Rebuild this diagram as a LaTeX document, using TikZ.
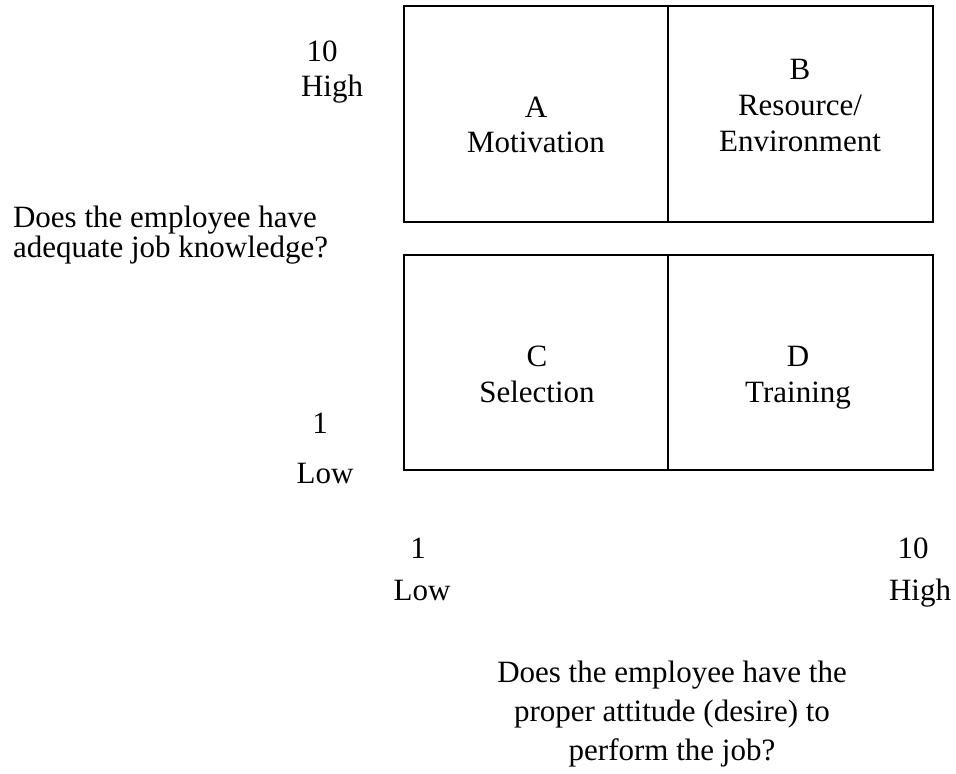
\documentclass[tikz,border=0pt]{standalone}
\usepackage{fontspec}
\setmainfont{Liberation Serif}
\begin{document}
\begin{tikzpicture}[x=0.5pt, y=-0.5pt, line width=1.1pt,
		lbl/.style={anchor=base, inner sep=0pt, align=center, font=\fontsize{15.5}{17.5}\selectfont}]
		\useasboundingbox (0,0) rectangle (956,774);
		%upper row
		\draw (404,6) rectangle (933,222);
		\draw (668,6) -- (668,222);
		%lower row
		\draw (404,255) rectangle (933,470);
		\draw (668,255) -- (668,470);
		%cells (base = last line)
		\node[lbl] (cellA) at (536,153) {A\\Motivation};
		\node[lbl, font=\fontsize{15.5}{18}\selectfont] (cellB) at (800,152) {B\\Resource/\\Environment};
		\node[lbl, font=\fontsize{15.5}{18}\selectfont] (cellC) at (537,402) {C\\Selection};
		\node[lbl, font=\fontsize{15.5}{18}\selectfont] (cellD) at (798,402) {D\\Training};
		%knowledge axis
		\node[lbl] (kHi) at (322,62) {10};
		\node[lbl] (kHiTxt) at (332,97) {High};
		\node[lbl] (kLo) at (320,433) {1};
		\node[lbl] (kLoTxt) at (325,483) {Low};
		\node[lbl, anchor=base west, align=left, font=\fontsize{15.5}{14}\selectfont] (kQuest) at (12,258)
			{Does the employee have\\adequate job knowledge?};
		%attitude axis
		\node[lbl] (aLo) at (418,558) {1};
		\node[lbl] (aLoTxt) at (422,600) {Low};
		\node[lbl] (aHi) at (913,558) {10};
		\node[lbl] (aHiTxt) at (920,600) {High};
		\node[lbl, font=\fontsize{15.5}{19.3}\selectfont] (aQuest) at (672,760)
			{Does the employee have the\\proper attitude (desire) to\\perform the job?};
\end{tikzpicture}
\end{document}
